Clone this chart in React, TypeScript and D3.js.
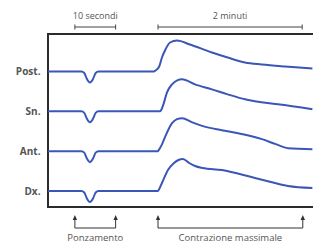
import React from "react";
import * as d3 from "d3";

// Data (time in seconds, amplitude in arbitrary units relative to baseline)
const channels = ["Post.", "Sn.", "Ant.", "Dx."];

const dipTimes = [0, 8.2, 8.9, 9.5, 10.3, 11.1, 11.7, 12.4, 26];
const dipValues = [0, 0, -1.5, -7, -11, -7, -1.5, 0, 0];

const postT = [26, 26.4, 28, 30.3, 32.8, 37, 42.8, 53.6, 71.9, 85, 99.4, 113.5, 132.7, 155.5];
const postV = [0, 1, 5, 14, 21, 29, 31, 27, 19, 14, 9, 7, 5, 3];

const snT = [28.7, 29.5, 31.5, 34.5, 38.7, 43, 47, 57.8, 71.9, 85, 99.4, 113, 126.8, 155.5];
const snV = [0, 1, 7, 19, 27, 31, 32, 27, 22, 17, 12, 9, 7, 2];

const antT = [27, 27.6, 30, 32.8, 38.7, 42.8, 47, 55, 64.4, 80, 93.6, 113.5, 125, 135.2, 155.5];
const antV = [0, 1, 6, 14, 28, 32, 33, 29, 25, 21, 18, 12, 7, 3, 2];

const dxT = [27, 27.6, 30.3, 35.3, 40.3, 44, 47.8, 53, 57.8, 64.4, 80.2, 95, 107.7, 121, 135.2, 155.5];
const dxV = [0, 1, 8, 21, 28, 31, 32, 28, 25, 23, 21, 17, 13, 9, 5, 3];

const tracesT = [postT, snT, antT, dxT];
const tracesV = [postV, snV, antV, dxV];

const scaleBarLabels = ["10 secondi", "2 minuti"];
const scaleBarStart = [6.6, 27];
const scaleBarEnd = [16.6, 147];

const eventLabels = ["Ponzamento", "Contrazione massimale"];
const eventStart = [6.6, 27];
const eventEnd = [16.6, 147.5];

const W = 313;
const H = 243;

export default function App() {
  const x = d3.scaleLinear().domain([0, 27, 156]).range([48, 158, 313]);
  const band = d3.scalePoint<string>().domain(channels).range([71.5, 191]);
  const amp = d3.scaleLinear().domain([0, 32]).range([0, -32]);

  const lineFor = (ts: number[], vs: number[], base: number) => {
    const pts: [number, number][] = [];
    dipTimes.forEach((t, i) => pts.push([t, dipValues[i]]));
    ts.forEach((t, i) => pts.push([t, vs[i]]));
    return d3
      .line<[number, number]>()
      .x((d) => x(d[0]))
      .y((d) => base + amp(d[1]))
      .curve(d3.curveMonotoneX)(pts) as string;
  };

  const axisColor = "#2b2b2b";
  const textColor = "#555";
  const traceColor = "#3a57b8";
  const font = "'Open Sans', 'DejaVu Sans', sans-serif";

  const barY = 27;
  const arrowTop = 215;
  const bracketY = 228;

  return (
    <svg
      width={W}
      height={H}
      style={{ position: "absolute", left: 0, top: 0, background: "#fff" }}
      fontFamily={font}
    >
      {/* scale bars */}
      {scaleBarLabels.map((lab, i) => {
        const x0 = x(scaleBarStart[i]);
        const x1 = x(scaleBarEnd[i]);
        return (
          <g key={lab}>
            <text x={(x0 + x1) / 2} y={18.5} fontSize={9} fill={textColor} textAnchor="middle">
              {lab}
            </text>
            <line x1={x0} x2={x1} y1={barY} y2={barY} stroke="#444" strokeWidth={1} />
            <line x1={x0} x2={x0} y1={barY - 2.5} y2={barY + 2.5} stroke="#444" strokeWidth={1} />
            <line x1={x1} x2={x1} y1={barY - 2.5} y2={barY + 2.5} stroke="#444" strokeWidth={1} />
          </g>
        );
      })}

      {/* frame */}
      <line x1={x(0)} x2={W} y1={34} y2={34} stroke={axisColor} strokeWidth={2} />
      <line x1={x(0)} x2={W} y1={207} y2={207} stroke={axisColor} strokeWidth={2} />
      <line x1={x(0)} x2={x(0)} y1={33} y2={208} stroke={axisColor} strokeWidth={2} />

      {/* channel labels and traces */}
      {channels.map((c, i) => {
        const base = band(c) as number;
        return (
          <g key={c}>
            <text
              x={40.5}
              y={base + 3.5}
              fontSize={10}
              fontWeight="bold"
              fill={textColor}
              textAnchor="end"
            >
              {c}
            </text>
            <path
              d={lineFor(tracesT[i], tracesV[i], base)}
              fill="none"
              stroke={traceColor}
              strokeWidth={2}
              strokeLinejoin="round"
            />
          </g>
        );
      })}

      {/* event markers */}
      {eventLabels.map((lab, i) => {
        const x0 = x(eventStart[i]);
        const x1 = x(eventEnd[i]);
        return (
          <g key={lab} stroke="#333" fill="#333">
            {[x0, x1].map((xx, j) => (
              <g key={j}>
                <line x1={xx} x2={xx} y1={arrowTop + 2} y2={bracketY} strokeWidth={1} />
                <path
                  d={`M${xx},${arrowTop} L${xx - 2.2},${arrowTop + 5} L${xx + 2.2},${arrowTop + 5} Z`}
                  stroke="none"
                />
              </g>
            ))}
            <line x1={x0} x2={x1} y1={bracketY} y2={bracketY} strokeWidth={1} />
            <text
              x={(x0 + x1) / 2}
              y={241}
              fontSize={9.5}
              fill={textColor}
              stroke="none"
              textAnchor="middle"
            >
              {lab}
            </text>
          </g>
        );
      })}
    </svg>
  );
}
